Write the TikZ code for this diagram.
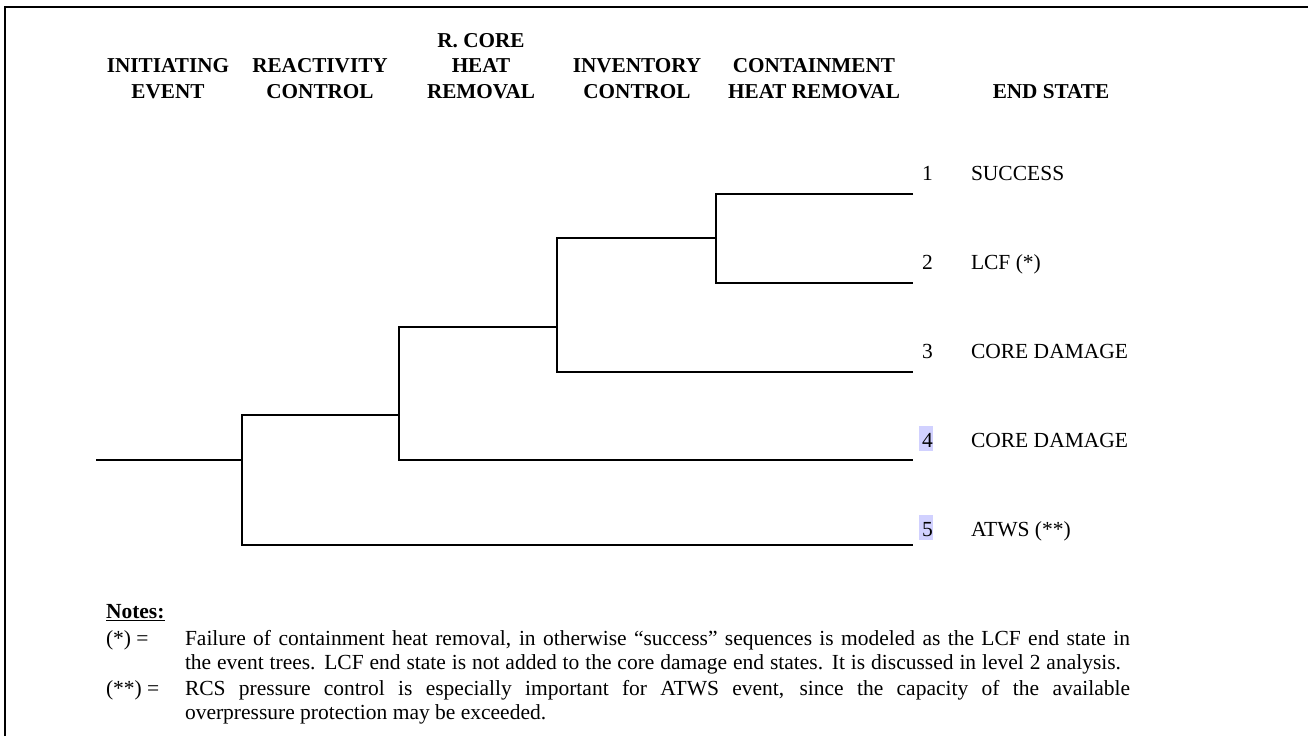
\documentclass[tikz,border=0pt]{standalone}
\usepackage{fontspec}
\setmainfont{Liberation Serif}
\begin{document}
\begin{tikzpicture}[x=1pt,y=-1pt,
  txt/.style={inner sep=0pt,outer sep=0pt,font=\fontsize{21.5}{25.5}\selectfont},
  hdr/.style={txt,align=center,font=\fontsize{21.2}{25.5}\selectfont\bfseries,anchor=base},
  lab/.style={txt,anchor=base west},
  branch/.style={line width=2.4pt,line join=miter},
  frame/.style={line width=2pt},
  hl/.style={fill=blue!18,draw=none}]
\useasboundingbox (0,0) rectangle (1308,736);
% frame
\coordinate (f1) at (5,736);
\coordinate (f2) at (5,7);
\coordinate (f3) at (1308,7);
\draw[frame] (f1) -- (f2) -- (f3);
% headers (base = baseline of last line)
\node[hdr] (h1) at (168,98) {INITIATING\\EVENT};
\node[hdr] (h2) at (320,98) {REACTIVITY\\CONTROL};
\node[hdr] (h3) at (481,98) {R. CORE\\HEAT\\REMOVAL};
\node[hdr] (h4) at (637,98) {INVENTORY\\CONTROL};
\node[hdr] (h5) at (814,98) {CONTAINMENT\\HEAT REMOVAL};
\node[hdr] (h6) at (1051,98) {END STATE};
% tree coordinates
\coordinate (ie) at (96,460);
\coordinate (A) at (242,460);
\coordinate (B) at (399,415);
\coordinate (C) at (557,327);
\coordinate (D) at (716,238);
\coordinate (e1) at (913,194);
\coordinate (e2) at (913,283);
\coordinate (e3) at (913,372);
\coordinate (e4) at (913,460);
\coordinate (e5) at (913,545);
\draw[branch] (ie) -- (A);
\draw[branch] (B) -| (A) |- (e5);
\draw[branch] (C) -| (B) |- (e4);
\draw[branch] (D) -| (C) |- (e3);
\draw[branch] (e1) -| (D) |- (e2);
% highlights behind 4 and 5
\fill[hl] (919,426) rectangle (933,451);
\fill[hl] (919,515) rectangle (933,540);
% end states
\node[lab] (n1) at (922,180) {1};
\node[lab] (n2) at (922,269) {2};
\node[lab] (n3) at (922,358) {3};
\node[lab] (n4) at (922,447) {4};
\node[lab] (n5) at (922,536) {5};
\node[lab] (s1) at (971,180) {SUCCESS};
\node[lab] (s2) at (971,269) {LCF (*)};
\node[lab] (s3) at (971,358) {CORE DAMAGE};
\node[lab] (s4) at (971,447) {CORE DAMAGE};
\node[lab] (s5) at (971,536) {ATWS (**)};
% notes
\node[lab,font=\fontsize{21.5}{25.5}\selectfont\bfseries] (notes) at (106,618) {\underline{Notes:}};
\node[lab] (k1) at (106,645) {(*) =};
\node[lab] (k2) at (106,695) {(**) =};
\node[lab] (t1) at (185,645) {\makebox[945pt][s]{Failure of containment heat removal, in otherwise “success” sequences is modeled as the LCF end state in}};
\node[lab] (t2) at (185,669) {\makebox[936pt][s]{the event trees. LCF end state is not added to the core damage end states. It is discussed in level 2 analysis.}};
\node[lab] (t3) at (185,695) {\makebox[945pt][s]{RCS pressure control is especially important for ATWS event, since the capacity of the available}};
\node[lab] (t4) at (185,719) {overpressure protection may be exceeded.};
\end{tikzpicture}
\end{document}
